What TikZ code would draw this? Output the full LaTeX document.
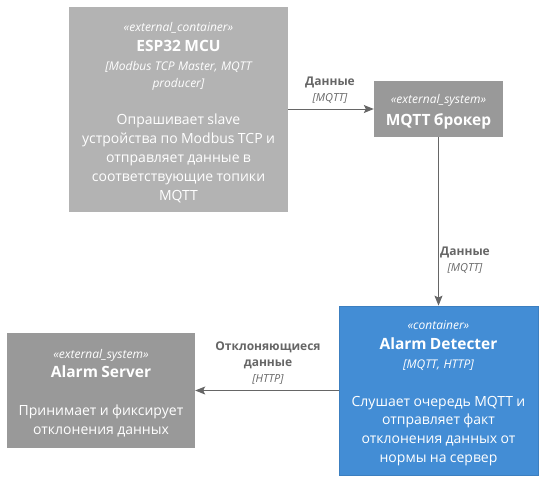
\documentclass[tikz,border=0pt]{standalone}
\usepackage{fontspec}
\setmainfont{Open Sans}
\usetikzlibrary{arrows.meta}
\definecolor{extc}{HTML}{B3B3B3}
\definecolor{exts}{HTML}{999999}
\definecolor{cont}{HTML}{438DD5}
\definecolor{contb}{HTML}{3C7FC0}
\definecolor{lnc}{HTML}{666666}
\newcommand\cstereo[1]{{\fontsize{12}{14}\selectfont\itshape «#1»\par}}
\newcommand\ctitle[1]{{\fontsize{15.5}{19.5}\selectfont\bfseries #1\par}}
\newcommand\ctech[1]{\vspace{2pt}{\fontsize{12}{17}\selectfont\itshape #1\par}}
\newcommand\cbody[1]{{\fontsize{14}{18.8}\selectfont #1\par}}
\begin{document}
\begin{tikzpicture}[x=1pt,y=-1pt,
  box/.style={rectangle,inner sep=0pt,text=white,align=center},
  lbl/.style={text=lnc,align=center,inner sep=0pt,font=\fontsize{12}{16}\selectfont},
  arr/.style={draw=lnc,line width=1pt,-{Stealth[length=10pt,width=8pt,inset=2pt]}}]
\useasboundingbox (0,0) rectangle (543,480);
\node[box,fill=extc,minimum width=219pt,minimum height=205pt,text width=215pt] (esp) at (178.5,109.5)
  {\cstereo{external\_container}\ctitle{ESP32 MCU}\ctech{[Modbus TCP Master, MQTT\\producer]}\vspace{19pt}\cbody{Опрашивает slave\\устройства по Modbus TCP и\\отправляет данные в\\соответствующие топики\\MQTT}\vspace{-6pt}};
\node[box,fill=exts,minimum width=129pt,minimum height=56pt,text width=125pt] (broker) at (438.5,109)
  {\cstereo{external\_system}\vspace{2pt}\ctitle{MQTT брокер}\vspace{-6pt}};
\node[box,fill=cont,draw=contb,line width=0.8pt,minimum width=199pt,minimum height=169pt,text width=195pt] (det) at (438.5,390.5)
  {\cstereo{container}\ctitle{Alarm Detecter}\ctech{[MQTT, HTTP]}\vspace{19pt}\cbody{Слушает очередь MQTT и\\отправляет факт\\отклонения данных от\\нормы на сервер}\vspace{-6pt}};
\node[box,fill=exts,minimum width=188pt,minimum height=115pt,text width=184pt] (srv) at (101,390.5)
  {\cstereo{external\_system}\ctitle{Alarm Server}\vspace{19pt}\cbody{Принимает и фиксирует\\отклонения данных}\vspace{-5pt}};
\draw[arr] (esp.east |- broker.west) -- (broker.west);
\draw[arr] (broker.south) -- (det.north -| broker.south);
\draw[arr] (det.west) -- (srv.east);
\node[lbl] (l1) at (330,90.5) {\bfseries Данные\\{\fontsize{11}{16}\selectfont\itshape [MQTT]}};
\node[lbl] (l2) at (465,260) {\bfseries Данные\\{\fontsize{11}{16}\selectfont\itshape [MQTT]}};
\node[lbl] (l3) at (268,363.5) {\bfseries Отклоняющиеся\\\bfseries данные\\{\fontsize{11}{16}\selectfont\itshape [HTTP]}};
\end{tikzpicture}
\end{document}
